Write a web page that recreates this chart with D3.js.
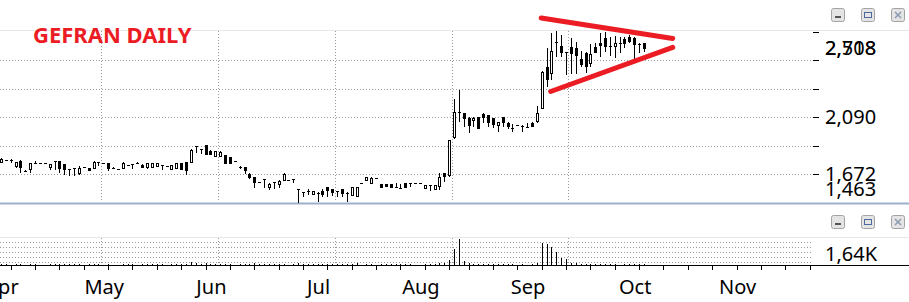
<!DOCTYPE html>
<html>
<head>
<meta charset="utf-8">
<script src="https://cdn.jsdelivr.net/npm/d3@7"></script>
<style>
  body { margin: 0; background: #fff; }
  svg { display: block; }
  text { font-family: "Noto Sans", "Open Sans", sans-serif; }
</style>
</head>
<body>
<div id="chart"></div>
<script>
// daily bars, first one is 2022-04-01
const startDate = "2022-04-01";
const holidays = ["2022-08-15"];

const opens = [
  1760,1775,1771,1731,1767,1697,1709,1753,1753,1751,
  1723,1769,1769,1745,1709,1716,1681,1721,1714,1721,
  1760,1752,1750,1716,1709,1714,1738,1745,1755,1740,
  1718,1721,1725,1738,1731,1706,1714,1750,1758,1758,
  1877,1853,1885,1843,1804,1804,1811,1797,1769,1721,
  1721,1672,1650,1611,1633,1575,1616,1599,1628,1628,
  1633,1560,1542,1550,1524,1537,1550,1575,1560,1548,
  1562,1533,1518,1506,1604,1628,1604,1640,1599,1597,
  1599,1576,1568,1604,1604,1604,1604,1567,1592,1560,
  1584,1677,1665,1941,2124,2117,2080,2063,2088,2112,
  2105,2080,2026,2088,2048,2009,2031,2024,2019,2044,
  2055,2161,2459,2415,2642,2611,2565,2601,2594,2513,
  2557,2488,2605,2635,2667,2613,2613,2635,2662,2674,
  2667,2623,2635];
const highs = [
  1786,1777,1785,1762,1775,1699,1755,1767,1755,1753,
  1747,1770,1771,1747,1710,1717,1731,1723,1716,1769,
  1761,1756,1755,1723,1711,1760,1740,1746,1757,1742,
  1752,1752,1753,1739,1733,1740,1752,1752,1760,1853,
  1878,1854,1887,1845,1843,1838,1813,1799,1771,1733,
  1723,1679,1652,1613,1634,1604,1617,1628,1677,1630,
  1634,1561,1543,1560,1550,1542,1560,1579,1562,1549,
  1563,1542,1579,1577,1606,1650,1648,1642,1601,1599,
  1601,1604,1599,1606,1605,1606,1606,1594,1593,1594,
  1677,1679,1923,2222,2288,2119,2088,2092,2092,2117,
  2107,2085,2054,2090,2050,2039,2033,2031,2044,2055,
  2171,2425,2594,2704,2718,2691,2566,2672,2642,2574,
  2569,2625,2630,2704,2711,2679,2684,2674,2679,2691,
  2679,2635,2636];
const lows = [
  1756,1773,1753,1716,1681,1695,1679,1752,1751,1750,
  1701,1701,1681,1665,1657,1657,1665,1719,1699,1706,
  1731,1748,1696,1709,1707,1712,1729,1709,1753,1723,
  1706,1718,1723,1701,1725,1704,1712,1704,1665,1750,
  1828,1819,1817,1817,1800,1800,1748,1750,1767,1706,
  1672,1635,1570,1609,1567,1555,1560,1567,1623,1626,
  1604,1463,1506,1518,1518,1465,1506,1506,1511,1506,
  1506,1469,1511,1504,1602,1626,1599,1638,1573,1577,
  1575,1574,1566,1573,1575,1602,1602,1565,1550,1555,
  1555,1616,1652,1926,2055,2019,1975,2019,2000,2048,
  2014,2007,1978,2019,2000,1982,2029,1982,2007,2019,
  2046,2156,2312,2361,2532,2532,2398,2405,2405,2459,
  2410,2459,2557,2528,2564,2537,2520,2557,2594,2630,
  2513,2561,2564];
const closes = [
  1782,1775,1772,1760,1723,1697,1753,1753,1753,1751,
  1745,1768,1716,1706,1708,1715,1718,1721,1701,1762,
  1759,1753,1714,1716,1709,1750,1731,1744,1755,1725,
  1750,1750,1750,1737,1731,1738,1750,1706,1701,1848,
  1876,1852,1819,1819,1841,1836,1750,1753,1769,1722,
  1696,1652,1616,1611,1632,1599,1615,1621,1672,1628,
  1632,1559,1541,1542,1548,1535,1526,1550,1535,1547,
  1535,1532,1575,1575,1604,1648,1640,1640,1575,1579,
  1579,1575,1567,1575,1603,1604,1604,1592,1591,1592,
  1652,1652,1921,2124,2125,2080,2026,2080,2007,2092,
  2055,2036,2051,2051,2026,2008,2031,2023,2018,2024,
  2117,2422,2374,2574,2643,2565,2564,2557,2540,2479,
  2459,2552,2569,2620,2611,2612,2635,2634,2630,2642,
  2623,2622,2598];
const volumes = [
  60,40,30,70,90,30,80,40,20,30,
  50,60,90,80,70,60,50,20,40,70,
  40,20,80,30,20,60,40,50,20,40,
  60,50,40,50,30,50,60,70,90,220,
  110,80,100,60,70,50,90,70,30,60,
  80,90,110,40,70,60,80,70,90,30,
  50,120,70,60,50,90,60,70,50,60,
  60,80,90,100,30,60,70,30,50,40,
  40,50,40,50,40,20,20,40,50,60,
  120,150,300,1000,1640,250,130,60,90,50,
  60,70,40,50,40,60,20,40,30,50,
  130,1390,1320,1140,820,440,380,120,100,70,
  90,80,60,50,70,40,60,30,50,40,
  50,40,60];

const monthLabels = ["Apr","May","Jun","Jul","Aug","Sep","Oct","Nov"];
const priceTicks = [1672,1881,2090,2299,2508,2717];
const priceGrid = [1672,1881,2090,2299,2508];
const priceLabels = [1672,2090,2508];
const volumeGrid = [210,520,840,1140,1440];
// triangle drawn on the chart: [bar index, price]
const trendUpper = [[110.9,2816],[137.9,2666]];
const trendLower = [[112.85,2277],[137.9,2601]];

const width = 909, height = 302, plotRight = 813;
const svg = d3.select("#chart").append("svg")
    .attr("width", width).attr("height", height);

// trading calendar
const parse = d3.timeParse("%Y-%m-%d"), fmt = d3.timeFormat("%Y-%m-%d");
let days = [];
for (let d = parse(startDate); days.length < 175; d = d3.timeDay.offset(d, 1)) {
  if (d.getDay() === 0 || d.getDay() === 6 || holidays.includes(fmt(d))) continue;
  days.push(d);
}

const x = d3.scaleLinear().domain([-0.2, 166.7]).range([0, plotRight]);
const y = d3.scaleLinear().domain([1672, 2508]).range([174, 60]);
const yv = d3.scaleLinear().domain([0, d3.max(volumes)]).range([265, 239]);
const px = k => Math.round(x(k));

// panel frames
svg.append("line").attr("x1",0).attr("x2",width).attr("y1",30.5).attr("y2",30.5)
   .attr("stroke","#e8e8e8");
svg.append("line").attr("x1",0).attr("x2",width).attr("y1",237.5).attr("y2",237.5)
   .attr("stroke","#e8e8e8");
svg.append("rect").attr("x",0).attr("y",202.5).attr("width",width).attr("height",2)
   .attr("fill","#9cb1cd");

let grid = svg.append("g").attr("stroke","#9a9a9a").attr("stroke-dasharray","1,2")
              .attr("shape-rendering","crispEdges");
let vgrid = d3.range(20.5, closes.length, 24);
grid.selectAll(".vg").data(vgrid).enter().append("line")
    .attr("x1",d=>px(d)+0.5).attr("x2",d=>px(d)+0.5).attr("y1",31).attr("y2",202);
grid.selectAll(".vg2").data(vgrid).enter().append("line")
    .attr("x1",d=>px(d)+0.5).attr("x2",d=>px(d)+0.5).attr("y1",238).attr("y2",265);
grid.selectAll(".hg").data(priceGrid).enter().append("line")
    .attr("x1",0).attr("x2",plotRight).attr("y1",d=>Math.round(y(d))+0.5).attr("y2",d=>Math.round(y(d))+0.5);
grid.selectAll(".hv").data(volumeGrid).enter().append("line")
    .attr("x1",0).attr("x2",plotRight).attr("y1",d=>Math.round(yv(d))+0.5).attr("y2",d=>Math.round(yv(d))+0.5);

// right price axis
svg.append("g").selectAll("line").data(priceTicks).enter().append("line")
   .attr("x1",plotRight).attr("x2",plotRight+6)
   .attr("y1",d=>Math.round(y(d))+0.5).attr("y2",d=>Math.round(y(d))+0.5)
   .attr("stroke","#000").attr("shape-rendering","crispEdges");

// labels near the top or bottom edge get pushed into fixed slots
let labelVals = priceLabels.concat([d3.max(highs), d3.min(lows)]);
let labelY = v => { let p = y(v); if (p < 62) p = 47.7; if (p > 189) p = 189; return p; };
svg.append("g").selectAll("text").data(labelVals).enter().append("text")
   .attr("x",825)
   .attr("y",labelY)
   .attr("dy","0.36em")
   .attr("font-size","20px").attr("fill","#000")
   .text(d=>d3.format(",")(d));

// candles
let candles = svg.append("g").attr("shape-rendering","crispEdges");
closes.forEach((c,i) => {
  let cx = px(i), o = opens[i];
  candles.append("line")
     .attr("x1",cx+0.5).attr("x2",cx+0.5)
     .attr("y1",y(highs[i])).attr("y2",y(lows[i]))
     .attr("stroke","#000");
  let top = Math.min(y(o), y(c)), bot = Math.max(y(o), y(c));
  if (bot - top < 1.5) {
    let yy = Math.round((top+bot)/2)+0.5;
    candles.append("line").attr("x1",cx-1).attr("x2",cx+2)
       .attr("y1",yy).attr("y2",yy).attr("stroke","#000");
  } else {
    candles.append("rect")
       .attr("x",cx-0.5).attr("width",2)
       .attr("y",Math.round(top)+0.5).attr("height",Math.round(bot-top))
       .attr("fill", c > o ? "#fff" : "#000")
       .attr("stroke","#000");
  }
});

// volume
svg.append("g").attr("shape-rendering","crispEdges").selectAll("line")
   .data(volumes).enter().append("line")
   .attr("x1",(d,i)=>px(i)+0.5).attr("x2",(d,i)=>px(i)+0.5)
   .attr("y1",265).attr("y2",d=>yv(d))
   .attr("stroke","#000");

svg.append("text").attr("x",825).attr("y",253.5).attr("dy","0.36em")
   .attr("font-size","20px")
   .text(d3.format(".2f")(d3.max(volumes)/1000).replace(".",",") + "K");

// x axis
svg.append("line").attr("x1",0).attr("x2",width).attr("y1",265.5).attr("y2",265.5)
   .attr("stroke","#000").attr("shape-rendering","crispEdges");
let tickIdx = days.map((d,i)=>i).filter(i => days[i].getDay() === 2 && x(i) < plotRight);
svg.append("g").selectAll("line").data(tickIdx).enter().append("line")
   .attr("x1",d=>px(d)+0.5).attr("x2",d=>px(d)+0.5).attr("y1",266).attr("y2",270)
   .attr("stroke","#000").attr("shape-rendering","crispEdges");

let monthStarts = days.map((d,i)=>i)
   .filter(i => i === 0 || days[i].getMonth() !== days[i-1].getMonth())
   .filter(i => x(i) < plotRight);
svg.append("g").selectAll("text").data(monthStarts).enter().append("text")
   .attr("x",d=>x(d)+1).attr("y",294)
   .attr("text-anchor","middle").attr("font-size","20px")
   .text((d,j)=>monthLabels[j]);

// triangle
let line = d3.line().x(d=>x(d[0])).y(d=>y(d[1]));
svg.append("g").selectAll("path").data([trendUpper, trendLower]).enter().append("path")
   .attr("d",line).attr("stroke","#ec1c24").attr("stroke-width",5)
   .attr("stroke-linecap","round").attr("fill","none");

// title
svg.append("text").attr("x",33).attr("y",43)
   .attr("font-family","'Liberation Sans', Arial, sans-serif")
   .attr("font-weight","bold").attr("font-size","22px").attr("fill","#ec1c24")
   .text("GEFRAN DAILY");

// window buttons
function buttons(top) {
  let g = svg.append("g").attr("transform","translate(0,"+top+")");
  [831, 861, 891].forEach((bx,j) => {
    g.append("rect").attr("x",bx+0.5).attr("y",0.5).attr("width",13).attr("height",13)
     .attr("rx",2).attr("fill","#e4e4e4").attr("stroke","#a3a3a3");
    if (j === 0) g.append("rect").attr("x",bx+4).attr("y",8).attr("width",6).attr("height",2).attr("fill","#555");
    if (j === 1) g.append("rect").attr("x",bx+3.5).attr("y",4.5).attr("width",7).attr("height",5)
                  .attr("fill","none").attr("stroke","#4a6a9c").attr("stroke-width",1);
    if (j === 2) g.append("path").attr("d","M"+(bx+4)+",4L"+(bx+10)+",10M"+(bx+10)+",4L"+(bx+4)+",10")
                  .attr("stroke","#8a9ab0").attr("stroke-width",1.5);
  });
}
buttons(8);
buttons(215);
</script>
</body>
</html>
